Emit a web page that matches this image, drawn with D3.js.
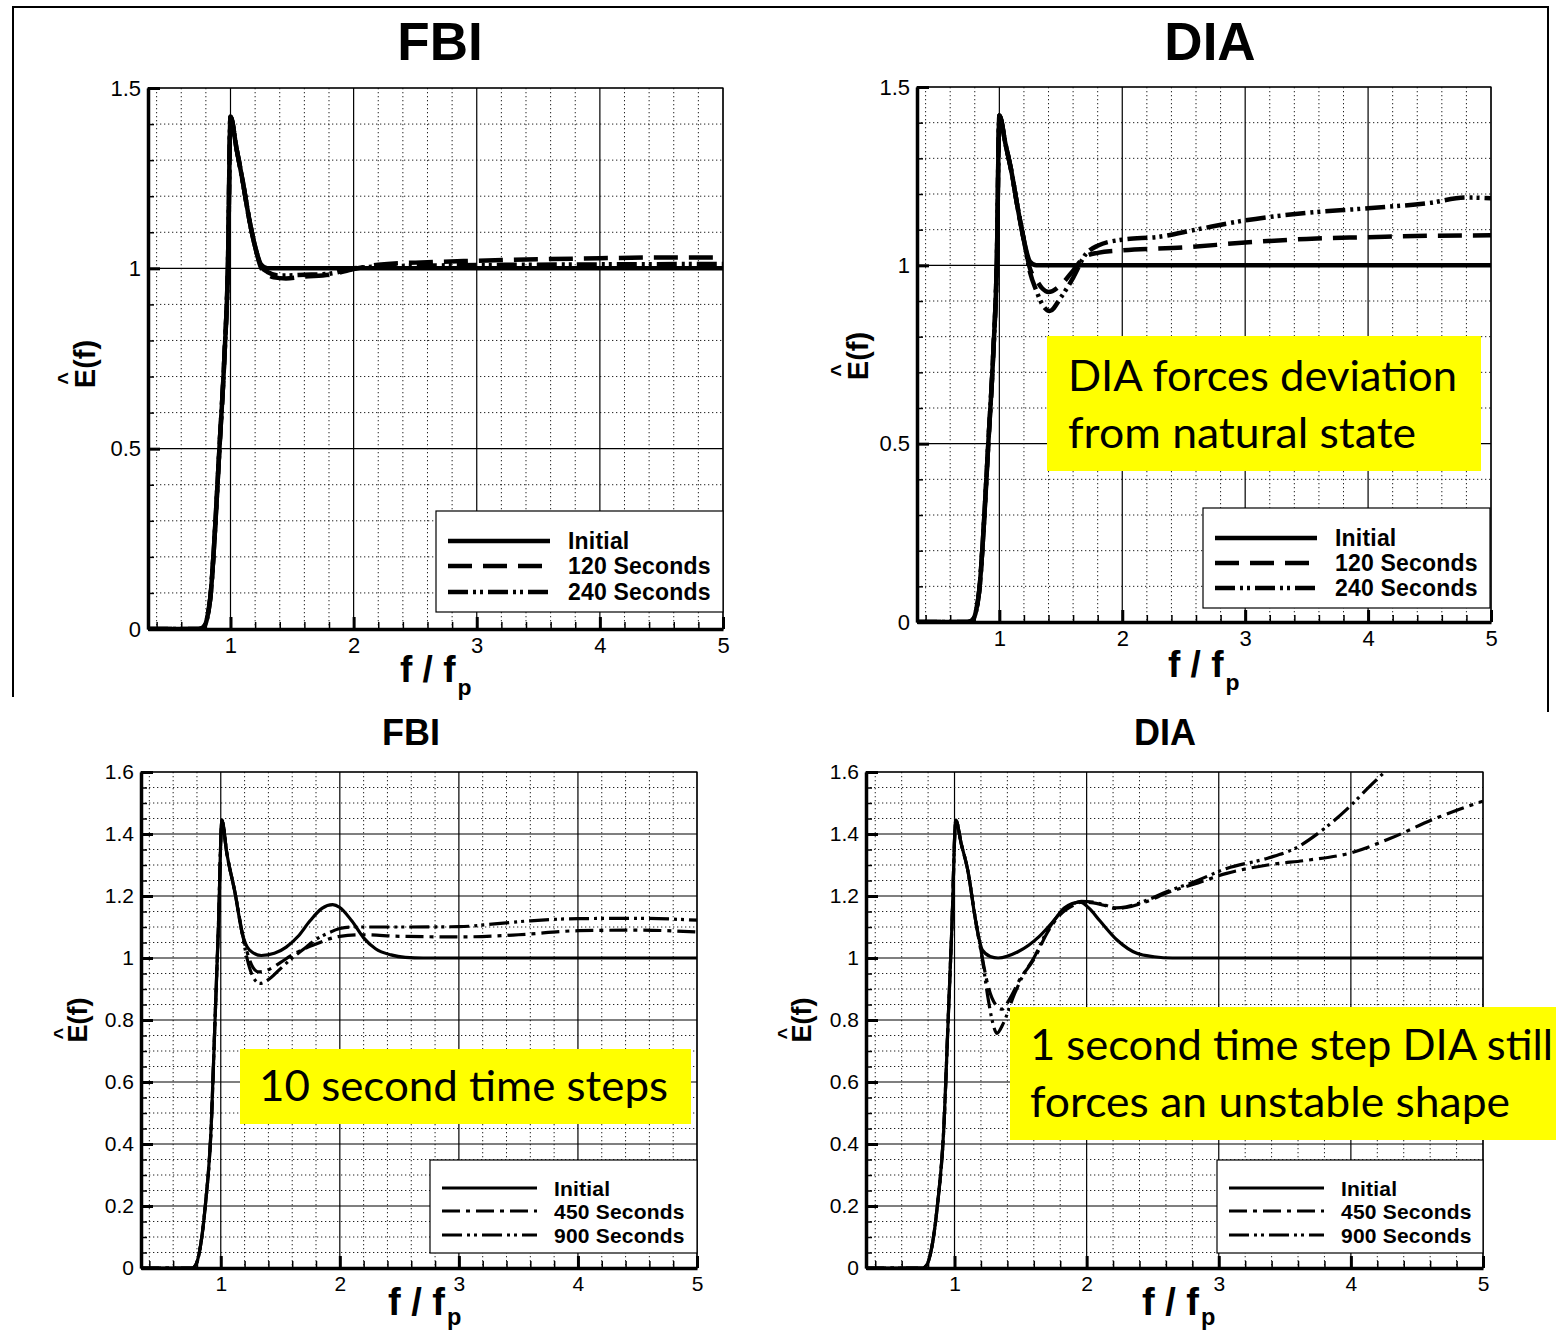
<!DOCTYPE html>
<html>
<head>
<meta charset="utf-8">
<script src="https://cdn.jsdelivr.net/npm/d3@7"></script>
<style>
body { margin: 0; background: #fff; }
svg { display: block; }
</style>
</head>
<body>
<svg id="canvas"></svg>
<script>
// spectra E^(f) vs f/fp
let xTicks = [1, 2, 3, 4, 5]
let xTickLabels = ['1', '2', '3', '4', '5']
let yTicksTop = [0, 0.5, 1, 1.5]
let yTickLabelsTop = ['0', '0.5', '1', '1.5']
let yTicksBottom = [0, 0.2, 0.4, 0.6, 0.8, 1, 1.2, 1.4, 1.6]
let yTickLabelsBottom = ['0', '0.2', '0.4', '0.6', '0.8', '1', '1.2', '1.4', '1.6']

let legendTop = ['Initial', '120 Seconds', '240 Seconds']
let legendBottom = ['Initial', '450 Seconds', '900 Seconds']

// top left: FBI
let fbiTopInitial = [[0.33,0],[0.74,0],[0.78,0.005],[0.81,0.03],[0.84,0.1],[0.87,0.25],[0.91,0.5],[0.95,0.75],[0.98,1.02],[1.0,1.42],[1.05,1.33],[1.1,1.24],[1.15,1.14],[1.2,1.06],[1.25,1.01],[1.3,1.0],[2,1.0],[3,1.0],[4,1.0],[5,1.0]]
let fbiTop120 = [[0.33,0],[0.74,0],[0.78,0.005],[0.81,0.03],[0.84,0.1],[0.87,0.25],[0.91,0.5],[0.95,0.75],[0.98,1.02],[1.0,1.42],[1.05,1.33],[1.1,1.24],[1.15,1.14],[1.2,1.06],[1.25,1.0],[1.3,0.983],[1.35,0.975],[1.45,0.972],[1.6,0.977],[1.8,0.982],[2.0,0.998],[2.2,1.01],[2.6,1.017],[3,1.021],[3.5,1.025],[4,1.028],[4.5,1.03],[5,1.03]]
let fbiTop240 = [[0.33,0],[0.74,0],[0.78,0.005],[0.81,0.03],[0.84,0.1],[0.87,0.25],[0.91,0.5],[0.95,0.75],[0.98,1.02],[1.0,1.42],[1.05,1.33],[1.1,1.24],[1.15,1.14],[1.2,1.06],[1.25,1.005],[1.3,0.99],[1.4,0.98],[1.6,0.982],[1.8,0.985],[2.0,1.0],[2.3,1.006],[3,1.009],[4,1.011],[5,1.012]]

// top right: DIA
let diaTopInitial = [[0.33,0],[0.74,0],[0.78,0.005],[0.81,0.03],[0.84,0.1],[0.87,0.25],[0.91,0.5],[0.95,0.75],[0.98,1.02],[1.0,1.42],[1.05,1.34],[1.1,1.26],[1.15,1.16],[1.2,1.07],[1.25,1.01],[1.3,1.0],[2,1.0],[3,1.0],[4,1.0],[5,1.0]]
let diaTop120 = [[0.33,0],[0.74,0],[0.78,0.005],[0.81,0.03],[0.84,0.1],[0.87,0.25],[0.91,0.5],[0.95,0.75],[0.98,1.02],[1.0,1.42],[1.05,1.34],[1.1,1.26],[1.15,1.16],[1.2,1.07],[1.25,0.99],[1.3,0.96],[1.35,0.935],[1.4,0.925],[1.5,0.945],[1.6,0.985],[1.7,1.025],[1.8,1.035],[2.0,1.042],[2.5,1.05],[3,1.064],[3.5,1.074],[4,1.079],[4.5,1.083],[5,1.084]]
let diaTop240 = [[0.33,0],[0.74,0],[0.78,0.005],[0.81,0.03],[0.84,0.1],[0.87,0.25],[0.91,0.5],[0.95,0.75],[0.98,1.02],[1.0,1.42],[1.05,1.34],[1.1,1.26],[1.15,1.16],[1.2,1.07],[1.25,0.98],[1.3,0.93],[1.35,0.89],[1.41,0.872],[1.5,0.91],[1.6,0.965],[1.7,1.03],[1.8,1.055],[2.0,1.072],[2.3,1.08],[2.6,1.1],[3,1.126],[3.5,1.147],[4,1.16],[4.5,1.175],[4.8,1.19],[5,1.188]]

// bottom left: FBI, 10 s steps
let fbiBotInitial = [[0.33,0],[0.76,0],[0.79,0.01],[0.82,0.05],[0.87,0.2],[0.92,0.46],[0.95,0.78],[0.98,1.1],[1.01,1.445],[1.05,1.34],[1.12,1.21],[1.18,1.08],[1.24,1.026],[1.34,1.008],[1.45,1.015],[1.55,1.035],[1.65,1.07],[1.75,1.12],[1.85,1.16],[1.94,1.172],[2.0,1.163],[2.1,1.12],[2.2,1.065],[2.3,1.03],[2.43,1.01],[2.55,1.002],[2.7,1.0],[3,1.0],[4,1.0],[5,1.0]]
let fbiBot450 = [[0.33,0],[0.76,0],[0.79,0.01],[0.82,0.05],[0.87,0.2],[0.92,0.46],[0.95,0.78],[0.98,1.1],[1.01,1.445],[1.05,1.34],[1.12,1.21],[1.18,1.08],[1.22,1.02],[1.27,0.97],[1.32,0.955],[1.4,0.962],[1.5,0.985],[1.6,1.01],[1.8,1.045],[2.0,1.07],[2.2,1.075],[2.5,1.07],[3,1.068],[3.5,1.075],[4,1.088],[4.5,1.09],[5,1.084]]
let fbiBot900 = [[0.33,0],[0.76,0],[0.79,0.01],[0.82,0.05],[0.87,0.2],[0.92,0.46],[0.95,0.78],[0.98,1.1],[1.01,1.445],[1.05,1.34],[1.12,1.21],[1.18,1.08],[1.22,1.0],[1.27,0.94],[1.33,0.918],[1.4,0.93],[1.5,0.965],[1.6,1.0],[1.7,1.03],[1.8,1.06],[1.9,1.08],[2.0,1.095],[2.1,1.1],[2.5,1.1],[3,1.101],[3.3,1.11],[3.6,1.12],[4,1.127],[4.5,1.128],[5,1.122]]

// bottom right: DIA, 1 s steps
let diaBotInitial = [[0.33,0],[0.76,0],[0.79,0.01],[0.82,0.05],[0.87,0.2],[0.92,0.46],[0.95,0.78],[0.98,1.1],[1.01,1.445],[1.05,1.37],[1.1,1.284],[1.16,1.12],[1.21,1.026],[1.27,1.005],[1.33,1.0],[1.48,1.02],[1.64,1.069],[1.75,1.12],[1.83,1.161],[1.95,1.18],[2.02,1.16],[2.1,1.12],[2.23,1.058],[2.38,1.015],[2.51,1.004],[2.65,1.0],[3,1.0],[4,1.0],[5,1.0]]
let diaBot450 = [[0.33,0],[0.76,0],[0.79,0.01],[0.82,0.05],[0.87,0.2],[0.92,0.46],[0.95,0.78],[0.98,1.1],[1.01,1.445],[1.05,1.37],[1.1,1.284],[1.16,1.12],[1.21,1.0],[1.26,0.9],[1.31,0.85],[1.36,0.835],[1.42,0.87],[1.5,0.935],[1.6,0.995],[1.7,1.08],[1.8,1.14],[1.9,1.17],[1.96,1.18],[2.05,1.178],[2.13,1.17],[2.22,1.16],[2.3,1.163],[2.44,1.18],[2.62,1.212],[2.81,1.238],[3.06,1.273],[3.37,1.3],[3.68,1.316],[3.99,1.338],[4.3,1.386],[4.61,1.445],[5,1.506]]
let diaBot900 = [[0.33,0],[0.76,0],[0.79,0.01],[0.82,0.05],[0.87,0.2],[0.92,0.46],[0.95,0.78],[0.98,1.1],[1.01,1.445],[1.05,1.37],[1.1,1.284],[1.16,1.12],[1.21,1.0],[1.25,0.88],[1.29,0.79],[1.32,0.757],[1.37,0.79],[1.45,0.88],[1.52,0.945],[1.6,1.0],[1.7,1.085],[1.8,1.145],[1.9,1.175],[1.96,1.183],[2.05,1.18],[2.13,1.172],[2.22,1.162],[2.3,1.165],[2.44,1.184],[2.62,1.216],[2.81,1.245],[3.06,1.289],[3.37,1.322],[3.58,1.354],[3.77,1.408],[3.99,1.488],[4.14,1.553],[4.27,1.606],[4.4,1.66]]

let width = 1556
let height = 1333
let font = '"Liberation Sans", Arial, sans-serif'
let dashes = {solid: null, dash: '24,11', dashdot: '18,6,4,6', dashdotdot: '20,5,3,4,3,5'}

let panels = [
  {title: 'FBI', tx: 440, ty: 60, ts: 53, left: 148, right: 723, top: 88, bottom: 629, yMax: 1.5,
   yTicks: yTicksTop, yLabels: yTickLabelsTop, yMinorStep: 10, tickFont: 22, lw: 4.5,
   series: [fbiTopInitial, fbiTop120, fbiTop240], names: legendTop, styles: ['solid', 'dash', 'dashdotdot'],
   legend: {x: 436, y: 511, w: 287, h: 101, rows: [30, 55, 81], len: 102, gap: 132, fs: 23},
   yTitle: {x: 95, y: 364, s: 29}, xTitle: {x: 400, y: 682, s: 37, sub: 0.34}},
  {title: 'DIA', tx: 1210, ty: 60, ts: 53, left: 917, right: 1491, top: 87, bottom: 622, yMax: 1.5,
   yTicks: yTicksTop, yLabels: yTickLabelsTop, yMinorStep: 10, tickFont: 22, lw: 4.5,
   series: [diaTopInitial, diaTop120, diaTop240], names: legendTop, styles: ['solid', 'dash', 'dashdotdot'],
   legend: {x: 1203, y: 508, w: 287, h: 100, rows: [30, 55, 80], len: 102, gap: 132, fs: 23},
   yTitle: {x: 868, y: 356, s: 29}, xTitle: {x: 1168, y: 677, s: 37, sub: 0.34},
   note: {x: 1047, y: 336, w: 434, h: 135, lines: ['DIA forces deviation', 'from natural state'], bx: 1068, by: [391, 448], tl: [389, 348], fs: 42}},
  {title: 'FBI', tx: 411, ty: 745, ts: 36, left: 141, right: 697, top: 772, bottom: 1268, yMax: 1.6,
   yTicks: yTicksBottom, yLabels: yTickLabelsBottom, yMinorStep: 20, tickFont: 21, lw: 3.2,
   series: [fbiBotInitial, fbiBot450, fbiBot900], names: legendBottom, styles: ['solid', 'dashdot', 'dashdotdot'],
   legend: {x: 430, y: 1160, w: 267, h: 93, rows: [28, 51, 75], len: 95, gap: 124, fs: 21},
   yTitle: {x: 87, y: 1020, s: 27}, xTitle: {x: 388, y: 1315, s: 38, sub: 0.27},
   note: {x: 240, y: 1049, w: 451, h: 75, lines: ['10 second time steps'], bx: 259, by: [1101], tl: [409], fs: 43}},
  {title: 'DIA', tx: 1165, ty: 745, ts: 36, left: 866, right: 1483, top: 772, bottom: 1268, yMax: 1.6,
   yTicks: yTicksBottom, yLabels: yTickLabelsBottom, yMinorStep: 20, tickFont: 21, lw: 3.2,
   series: [diaBotInitial, diaBot450, diaBot900], names: legendBottom, styles: ['solid', 'dashdot', 'dashdotdot'],
   legend: {x: 1217, y: 1160, w: 266, h: 93, rows: [28, 51, 75], len: 95, gap: 124, fs: 21},
   yTitle: {x: 811, y: 1020, s: 27}, xTitle: {x: 1142, y: 1315, s: 38, sub: 0.27},
   note: {x: 1010, y: 1007, w: 546, h: 133, lines: ['1 second time step DIA still', 'forces an unstable shape'], bx: 1030, by: [1060, 1117], tl: [523, 480], fs: 43}}
]

let svg = d3.select('#canvas')
            .attr('width', width)
            .attr('height', height)

// outer frame around the top pair
svg.append('path')
   .attr('d', 'M13,697 V7 H1548 V712')
   .attr('fill', 'none')
   .attr('stroke', '#000')
   .attr('stroke-width', 2)

let xMinor = d3.range(2, 25).filter(i => i % 5 !== 0).map(i => i / 5)

let drawPanel = (p, idx) => {
    let x = d3.scaleLinear().domain([0.33, 5]).range([p.left, p.right])
    let y = d3.scaleLinear().domain([0, p.yMax]).range([p.bottom, p.top])
    let yMinor = d3.range(1, Math.round(p.yMax * p.yMinorStep))
                   .map(i => i / p.yMinorStep)
                   .filter(v => !p.yTicks.some(t => Math.abs(t - v) < 1e-6))
    let g = svg.append('g')

    // dotted minor grid
    g.selectAll('.vminor').data(xMinor).enter().append('line')
     .attr('x1', d => x(d)).attr('x2', d => x(d))
     .attr('y1', p.top).attr('y2', p.bottom)
     .attr('stroke', '#222').attr('stroke-width', 1).attr('stroke-dasharray', '1.3,2.7')
    g.selectAll('.hminor').data(yMinor).enter().append('line')
     .attr('x1', p.left).attr('x2', p.right)
     .attr('y1', d => y(d)).attr('y2', d => y(d))
     .attr('stroke', '#222').attr('stroke-width', 1).attr('stroke-dasharray', '1.3,2.7')
    // solid major grid
    g.selectAll('.vmajor').data(xTicks).enter().append('line')
     .attr('x1', d => x(d)).attr('x2', d => x(d))
     .attr('y1', p.top).attr('y2', p.bottom)
     .attr('stroke', '#000').attr('stroke-width', 1.2)
    g.selectAll('.hmajor').data(p.yTicks).enter().append('line')
     .attr('x1', p.left).attr('x2', p.right)
     .attr('y1', d => y(d)).attr('y2', d => y(d))
     .attr('stroke', '#000').attr('stroke-width', 1.2)

    // curves
    svg.append('clipPath').attr('id', 'clip' + idx)
       .append('rect').attr('x', p.left).attr('y', p.top)
       .attr('width', p.right - p.left).attr('height', p.bottom - p.top)
    let line = d3.line().x(d => x(d[0])).y(d => y(d[1])).curve(d3.curveMonotoneX)
    g.append('g').attr('clip-path', `url(#clip${idx})`)
     .selectAll('path').data(p.series.slice().reverse()).enter().append('path')
     .attr('d', d => line(d))
     .attr('fill', 'none')
     .attr('stroke', '#000')
     .attr('stroke-width', p.lw)
     .attr('stroke-linejoin', 'round')
     .attr('stroke-dasharray', (d, i) => dashes[p.styles[p.series.length - 1 - i]])

    // plot frame
    g.append('rect')
     .attr('x', p.left).attr('y', p.top)
     .attr('width', p.right - p.left).attr('height', p.bottom - p.top)
     .attr('fill', 'none').attr('stroke', '#000').attr('stroke-width', 1.2)

    // axes
    let yAxis = g.append('g').attr('transform', `translate(${p.left},0)`)
                 .call(d3.axisLeft(y).tickValues(p.yTicks)
                         .tickFormat((d, i) => p.yLabels[i])
                         .tickSize(-12).tickSizeOuter(0).tickPadding(7))
    g.append('g').attr('transform', `translate(${p.left},0)`)
     .call(d3.axisLeft(y).tickValues(yMinor).tickFormat('').tickSize(-6).tickSizeOuter(0))
     .call(a => a.select('.domain').remove())
     .selectAll('line').attr('stroke-width', 1.5)
    let xAxis = g.append('g').attr('transform', `translate(0,${p.bottom})`)
                 .call(d3.axisBottom(x).tickValues(xTicks)
                         .tickFormat((d, i) => xTickLabels[i])
                         .tickSize(-12).tickSizeOuter(0).tickPadding(8))
    g.append('g').attr('transform', `translate(0,${p.bottom})`)
     .call(d3.axisBottom(x).tickValues(xMinor).tickFormat('').tickSize(-7).tickSizeOuter(0))
     .call(a => a.select('.domain').remove())
     .selectAll('line').attr('stroke-width', 1.5)
    ;[yAxis, xAxis].forEach(a => {
        a.attr('font-family', font).attr('font-size', p.tickFont)
        a.select('.domain').attr('stroke-width', 3.5)
        a.selectAll('.tick line').attr('stroke-width', 3)
        a.selectAll('text').attr('fill', '#000')
    })

    // titles
    svg.append('text').attr('x', p.tx).attr('y', p.ty)
       .attr('text-anchor', 'middle').attr('font-family', font)
       .attr('font-weight', 'bold').attr('font-size', p.ts).text(p.title)
    let xt = svg.append('text').attr('x', p.xTitle.x).attr('y', p.xTitle.y)
                .attr('font-family', font).attr('font-weight', 'bold')
                .attr('font-size', p.xTitle.s).text('f / f')
    xt.append('tspan').attr('dx', 2).attr('dy', p.xTitle.s * p.xTitle.sub)
      .attr('font-size', p.xTitle.s * 0.62).text('p')
    let yt = svg.append('g').attr('transform', `translate(${p.yTitle.x},${p.yTitle.y}) rotate(-90)`)
    yt.append('text').attr('text-anchor', 'middle').attr('font-family', font)
      .attr('font-weight', 'bold').attr('font-size', p.yTitle.s).text('E(f)')
    yt.append('text').attr('x', -p.yTitle.s * 0.5).attr('y', -p.yTitle.s * 0.72)
      .attr('text-anchor', 'middle').attr('font-family', font)
      .attr('font-weight', 'bold').attr('font-size', p.yTitle.s * 0.75).text('^')

    // legend
    let L = p.legend
    let lg = svg.append('g').attr('transform', `translate(${L.x},${L.y})`)
    lg.append('rect').attr('width', L.w).attr('height', L.h)
      .attr('fill', '#fff').attr('stroke', '#000').attr('stroke-width', 1.2)
    let rows = lg.selectAll('.legend-label').data(p.names).enter()
                 .append('g').attr('class', 'legend-label')
                 .attr('transform', (d, i) => `translate(12,${L.rows[i]})`)
    rows.append('line').attr('x1', 0).attr('x2', L.len)
        .attr('stroke', '#000').attr('stroke-width', p.lw)
        .attr('stroke-dasharray', (d, i) => dashes[p.styles[i]])
    rows.append('text').attr('x', L.gap - 12).attr('y', L.fs * 0.36)
        .attr('font-family', font).attr('font-weight', 'bold')
        .attr('font-size', L.fs).attr('letter-spacing', 0.2).text(d => d)

    // yellow callout
    if (p.note) {
        let n = p.note
        svg.append('rect').attr('x', n.x).attr('y', n.y)
           .attr('width', n.w).attr('height', n.h).attr('fill', '#ffff00')
        n.lines.forEach((t, i) => {
            svg.append('text').attr('x', n.bx).attr('y', n.by[i])
               .attr('font-family', 'Lato, "Open Sans", sans-serif')
               .attr('font-size', n.fs).attr('textLength', n.tl[i])
               .attr('lengthAdjust', 'spacingAndGlyphs').text(t)
        })
    }
}

panels.forEach((p, i) => drawPanel(p, i))
</script>
</body>
</html>
